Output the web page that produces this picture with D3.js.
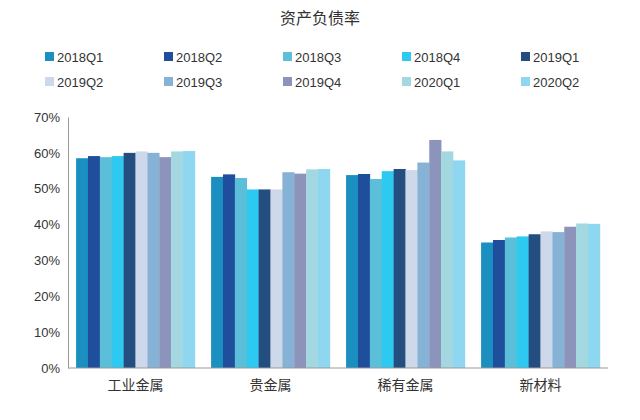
<!DOCTYPE html>
<html><head><meta charset="utf-8">
<script src="https://cdn.jsdelivr.net/npm/d3@7"></script>
<style>body{margin:0;background:#fff}svg{font-family:"Liberation Sans",Arial,sans-serif}</style>
</head><body><svg id="c" width="640" height="420"></svg>
<script>
const categories = ["工业金属", "贵金属", "稀有金属", "新材料"];
const seriesNames = ["2018Q1","2018Q2","2018Q3","2018Q4","2019Q1","2019Q2","2019Q3","2019Q4","2020Q1","2020Q2"];
const colors = ["#1a8fc0","#1f4e9c","#5bbfd9","#2ec9f0","#244e80","#cdd9ea","#86b2d6","#8c94bb","#a3d8e0","#8fd6f0"];
// values per category, one per series (%)
const v工业金属 = [58.5,59.1,58.8,59.1,60.0,60.4,60.0,58.8,60.4,60.5];
const v贵金属 = [53.3,54.0,53.0,49.8,49.8,49.8,54.6,54.2,55.4,55.5];
const v稀有金属 = [53.8,54.1,52.7,54.9,55.5,55.2,57.3,63.6,60.4,57.9];
const v新材料 = [35.0,35.7,36.4,36.7,37.3,38.1,37.9,39.4,40.3,40.2];
const values = [v工业金属, v贵金属, v稀有金属, v新材料];
const yTicks = [0,10,20,30,40,50,60,70];

const svg = d3.select("#c");
const m = {l: 68, r: 608, t: 117, b: 368};

const x = d3.scaleBand().domain(categories).range([m.l, m.r]).paddingInner(0.12).paddingOuter(0.06);
const xs = d3.scaleBand().domain(seriesNames).range([0, x.bandwidth()]);
const y = d3.scaleLinear().domain([0, 70]).range([m.b, m.t]);

svg.append("text").attr("x", 320).attr("y", 24).attr("text-anchor", "middle")
  .attr("font-family", "Noto Sans CJK SC").attr("font-size", 16).attr("fill", "#333")
  .text("资产负债率");

// legend
seriesNames.forEach((s, i) => {
  const col = i % 5, row = Math.floor(i / 5);
  const g = svg.append("g").attr("transform", `translate(${45 + col * 119},${57 + row * 25})`);
  g.append("rect").attr("x", 0).attr("y", -5).attr("width", 9).attr("height", 9).attr("fill", colors[i]);
  g.append("text").attr("x", 12).attr("y", 0).attr("dy", "0.35em").attr("font-size", 13).attr("fill", "#333").text(s);
});

categories.forEach((c, ci) => {
  svg.append("g").selectAll("rect").data(values[ci]).join("rect")
    .attr("x", (d, i) => x(c) + xs(seriesNames[i]))
    .attr("width", xs.bandwidth() + 0.3)
    .attr("y", d => y(d))
    .attr("height", d => y(0) - y(d))
    .attr("fill", (d, i) => colors[i]);
});

svg.append("g").attr("transform", `translate(${m.l},0)`)
  .call(d3.axisLeft(y).tickValues(yTicks).tickFormat(d => d + "%").tickSize(0).tickPadding(8))
  .call(g => g.select(".domain").attr("stroke", "#999"))
  .call(g => g.selectAll("text").attr("font-size", 13).attr("fill", "#333"));

const xa = svg.append("g").attr("transform", `translate(0,${m.b})`)
  .call(d3.axisBottom(x).tickSize(0).tickPadding(12))
  .call(g => g.select(".domain").attr("stroke", "#999").attr("d", `M${m.l},0H${m.r}`))
  .call(g => g.selectAll("text").attr("font-size", 14).attr("fill", "#333").attr("font-family", "Noto Sans CJK SC"));
</script></body></html>
